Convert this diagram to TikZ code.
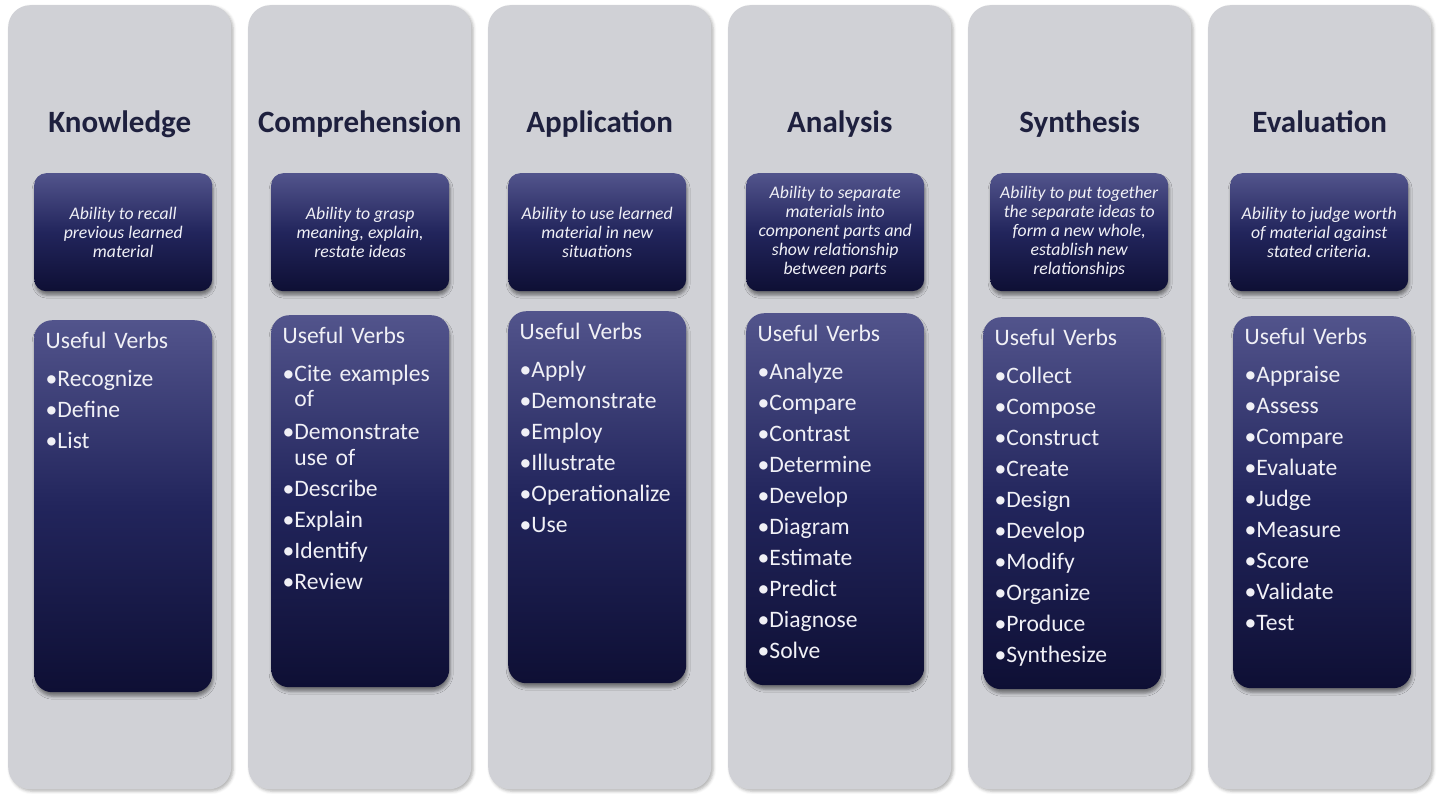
\documentclass[tikz,border=0pt]{standalone}
\usepackage{fontspec}
\setmainfont{Carlito}
\usetikzlibrary{shadows.blur}
\definecolor{colgray}{RGB}{208,209,214}
\definecolor{titlecol}{RGB}{30,32,62}
\definecolor{boxtop}{RGB}{82,84,140}
\definecolor{boxmid}{RGB}{34,37,92}
\definecolor{boxbot}{RGB}{14,15,52}
\definecolor{boxtext}{RGB}{240,240,246}
\tikzset{
  column/.style={rectangle, rounded corners=22pt, fill=colgray, minimum width=223pt, minimum height=784pt, anchor=north west, inner sep=0pt,
    blur shadow={shadow xshift=2pt, shadow yshift=-2pt, shadow opacity=30, shadow blur radius=3pt}},
  darkbox/.style={rectangle, top color=boxtop, bottom color=boxbot, middle color=boxmid, draw=none, anchor=north west, inner sep=0pt, minimum width=178pt,
    blur shadow={shadow xshift=1pt, shadow yshift=-4pt, shadow opacity=45, shadow blur radius=3pt}},
  descbox/.style={darkbox, rounded corners=12pt, minimum height=118pt, text=boxtext, align=center, font={\itshape\fontsize{17.7}{19}\selectfont}},
  verbbox/.style={darkbox, rounded corners=18pt, minimum height=372pt},
  verbtext/.style={anchor=base west, inner sep=0pt, text=boxtext, text width=172pt, align=left, font={\fontsize{23.6}{31}\selectfont}, xshift=11.5pt, yshift=-28pt},
  title/.style={anchor=base, inner sep=0pt, text=titlecol, font={\bfseries\fontsize{31}{37}\selectfont}, yshift=-127pt}
}
\begin{document}
\begin{tikzpicture}[x=1pt, y=-1pt]
\useasboundingbox (0,0) rectangle (1437,793);
% columns
\node[column] (c1) at (8,5) {};
\node[column] (c2) at (248,5) {};
\node[column] (c3) at (488,5) {};
\node[column] (c4) at (728,5) {};
\node[column] (c5) at (968,5) {};
\node[column] (c6) at (1208,5) {};
% titles
\node[title] (h1) at (c1.north) {Knowledge};
\node[title] (h2) at (c2.north) {Comprehension};
\node[title] (h3) at (c3.north) {Application};
\node[title] (h4) at (c4.north) {Analysis};
\node[title] (h5) at (c5.north) {Synthesis};
\node[title] (h6) at (c6.north) {Evaluation};
% descriptions
\node[descbox] (d1) at (34,173) {Ability to recall\\previous learned\\material};
\node[descbox] (d2) at (271,173) {Ability to grasp\\meaning, explain,\\restate ideas};
\node[descbox] (d3) at (508,173) {Ability to use learned\\material in new\\situations};
\node[descbox] (d4) at (746,173) {Ability to separate\\materials into\\component parts and\\show relationship\\between parts};
\node[descbox] (d5) at (990,173) {Ability to put together\\the separate ideas to\\form a new whole,\\establish new\\relationships};
\node[descbox] (d6) at (1230,173) {Ability to judge worth\\of material against\\stated criteria.};
% verb boxes
\node[verbbox] (v1) at (34,320) {};
\node[verbbox] (v2) at (271,315) {};
\node[verbbox] (v3) at (508,311) {};
\node[verbbox] (v4) at (746,313) {};
\node[verbbox] (v5) at (983,317) {};
\node[verbbox] (v6) at (1233,316) {};
% verb texts
\node[verbtext] (t1) at (v1.north west) {Useful Verbs\\[7pt]•Recognize\\•Define\\•List};
\node[verbtext] (t2) at (v2.north west) {Useful Verbs\\[7pt]•Cite examples\\[-6pt]\phantom{•}of\\[2pt]•Demonstrate\\[-5pt]\phantom{•}use of\\•Describe\\•Explain\\•Identify\\•Review};
\node[verbtext] (t3) at (v3.north west) {Useful Verbs\\[7pt]•Apply\\•Demonstrate\\•Employ\\•Illustrate\\•Operationalize\\•Use};
\node[verbtext] (t4) at (v4.north west) {Useful Verbs\\[7pt]•Analyze\\•Compare\\•Contrast\\•Determine\\•Develop\\•Diagram\\•Estimate\\•Predict\\•Diagnose\\•Solve};
\node[verbtext] (t5) at (v5.north west) {Useful Verbs\\[7pt]•Collect\\•Compose\\•Construct\\•Create\\•Design\\•Develop\\•Modify\\•Organize\\•Produce\\•Synthesize};
\node[verbtext] (t6) at (v6.north west) {Useful Verbs\\[7pt]•Appraise\\•Assess\\•Compare\\•Evaluate\\•Judge\\•Measure\\•Score\\•Validate\\•Test};
\end{tikzpicture}
\end{document}
